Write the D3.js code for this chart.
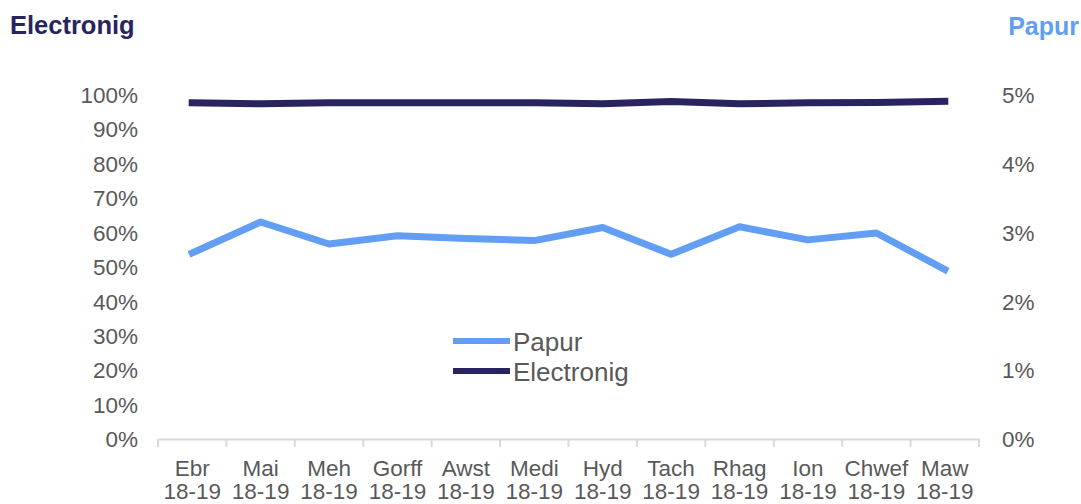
<!DOCTYPE html>
<html><head><meta charset="utf-8">
<script src="https://cdn.jsdelivr.net/npm/d3@7"></script>
<style>body{margin:0;background:#fff}svg{display:block}text{font-family:"Liberation Sans",Arial,sans-serif}</style>
</head><body><svg id="c" width="1081" height="504"></svg>
<script>
const months = ["Ebr","Mai","Meh","Gorff","Awst","Medi","Hyd","Tach","Rhag","Ion","Chwef","Maw"];
const yearLabel = "18-19";
const electronig = [97.6,97.3,97.6,97.6,97.6,97.6,97.3,98.0,97.3,97.6,97.7,98.0];
const papur = [2.70,3.15,2.83,2.95,2.91,2.88,3.07,2.68,3.08,2.89,2.99,2.46];
const leftTicks = [0,10,20,30,40,50,60,70,80,90,100];
const rightTicks = [0,1,2,3,4,5];

const svg = d3.select("#c");
const x = d3.scaleBand().domain(months).range([158,979]);
const yL = d3.scaleLinear().domain([0,100]).range([439,94.5]);
const yR = d3.scaleLinear().domain([0,5]).range([439,94.5]);
const grey = "#595959";
const cE = "#29245f", cP = "#629ef3";

// x axis
const xa = svg.append("g").attr("transform","translate(0,439)")
  .call(d3.axisBottom(x).tickSize(0).tickSizeOuter(0).tickFormat(""));
xa.select(".domain").attr("stroke","#d9d9d9").attr("stroke-width",2);
xa.selectAll(".tick").remove();
svg.append("g").selectAll("line").data(d3.range(13)).join("line")
  .attr("x1",i=>158+i*x.step()).attr("x2",i=>158+i*x.step())
  .attr("y1",439).attr("y2",447).attr("stroke","#d9d9d9").attr("stroke-width",2);
const lbl = svg.append("g").selectAll("text").data(months).join("text")
  .attr("text-anchor","middle").attr("fill",grey).style("font-size","22.5px");
lbl.append("tspan").attr("x",d=>x(d)+x.bandwidth()/2).attr("y",476).text(d=>d);
lbl.append("tspan").attr("x",d=>x(d)+x.bandwidth()/2).attr("y",499).text(yearLabel);

// left axis
const la = svg.append("g").attr("transform","translate(138,0)")
  .call(d3.axisLeft(yL).tickValues(leftTicks).tickSize(0).tickPadding(0).tickFormat(d=>d+"%"));
la.select(".domain").remove();
la.selectAll("text").attr("fill",grey).style("font-size","22.5px").attr("dy","0.35em");

// right axis
const ra = svg.append("g").attr("transform","translate(1002,0)")
  .call(d3.axisRight(yR).tickValues(rightTicks).tickSize(0).tickPadding(0).tickFormat(d=>d+"%"));
ra.select(".domain").remove();
ra.selectAll("text").attr("fill",grey).style("font-size","22.5px").attr("dy","0.35em");

// titles
svg.append("text").attr("x",10).attr("y",34).text("Electronig")
  .attr("fill",cE).style("font-size","25.5px").style("font-weight","bold");
svg.append("text").attr("x",1079).attr("y",35).attr("text-anchor","end").text("Papur")
  .attr("fill",cP).style("font-size","25px").style("font-weight","bold");

// lines
const cx = d=>x(d)+x.bandwidth()/2;
svg.append("path").datum(papur).attr("fill","none").attr("stroke",cP).attr("stroke-width",7)
  .attr("stroke-linecap","square").attr("stroke-linejoin","round")
  .attr("d",d3.line().x((d,i)=>cx(months[i])).y(d=>yR(d)));
svg.append("path").datum(electronig).attr("fill","none").attr("stroke",cE).attr("stroke-width",7)
  .attr("stroke-linecap","square").attr("stroke-linejoin","round")
  .attr("d",d3.line().x((d,i)=>cx(months[i])).y(d=>yL(d)));

// legend
const leg = [["Papur",cP,341],["Electronig",cE,371]];
leg.forEach(([n,c,y])=>{
  svg.append("line").attr("x1",453).attr("x2",510).attr("y1",y).attr("y2",y).attr("stroke",c).attr("stroke-width",6);
  svg.append("text").attr("x",513).attr("y",y+9.5).text(n).attr("fill",grey).style("font-size","26px");
});
</script></body></html>
